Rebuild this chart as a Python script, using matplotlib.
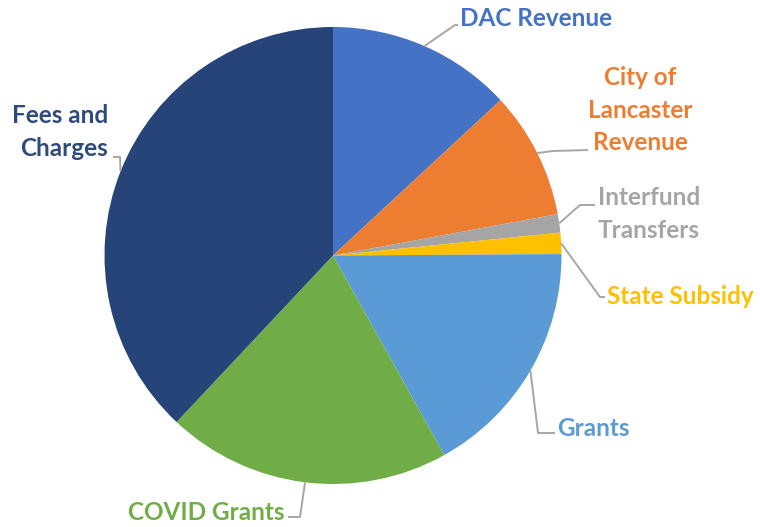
import matplotlib
matplotlib.use("Agg")
import matplotlib.pyplot as plt
import numpy as np

categories = ["DAC Revenue", "City of\nLancaster\nRevenue", "Interfund\nTransfers",
              "State Subsidy", "Grants", "COVID Grants", "Fees and\nCharges"]
values = [13.1, 9.0, 1.3, 1.5, 17.0, 20.1, 38.0]
colors = ["#4472C4", "#ED7D31", "#A5A5A5", "#FFC000", "#5B9BD5", "#70AD47", "#264478"]
text_colors = ["#4472C4", "#ED7D31", "#A5A5A5", "#FFC000", "#5B9BD5", "#70AD47", "#2F4B7C"]

W, H = 760, 527
CX, CY, R = 333, 255.5, 228.5

fig = plt.figure(figsize=(W / 100, H / 100), dpi=100)
ax = fig.add_axes([(CX - R) / W, (H - CY - R) / H, 2 * R / W, 2 * R / H])

wedges, _ = ax.pie(values, colors=colors, startangle=90, counterclock=False,
                   radius=1, wedgeprops=dict(linewidth=0))
ax.set_xlim(-1, 1)
ax.set_ylim(-1, 1)
ax.set_aspect("equal")
ax.axis("off")

def px(x, y):
    return ((x - CX) / R, (CY - y) / R)

# label layout: (text anchor px, ha, elbow px list)
layout = [
    ((460, 18), "left", [(455, 25), (458, 25)]),
    ((640, 110), "center", [(553, 151), (588, 150)]),
    ((598, 214), "left", [(580, 205), (595, 205)]),
    ((607, 296), "left", [(600, 297), (605, 297)]),
    ((557, 428), "left", [(538, 433), (555, 433)]),
    ((285, 513), "right", [(300, 517), (288, 517)]),
    ((108, 132), "right", [(120, 157), (113, 157)]),
]

for w, lab, tc, (tpos, ha, elbows) in zip(wedges, categories, text_colors, layout):
    mid = np.deg2rad((w.theta1 + w.theta2) / 2)
    pts = [(np.cos(mid), np.sin(mid))] + [px(*e) for e in elbows]
    xs, ys = zip(*pts)
    ax.plot(xs, ys, color="#A6A6A6", lw=1.4, clip_on=False, solid_capstyle="butt")
    tx, ty = px(*tpos)
    ax.text(tx, ty, lab, color=tc, ha=ha, va="center", fontsize=17.5,
            fontweight="bold", family=["Lato", "DejaVu Sans"], linespacing=1.5,
            multialignment="center" if ha == "center" else ha, clip_on=False)

fig.savefig("out.png", dpi=100)
